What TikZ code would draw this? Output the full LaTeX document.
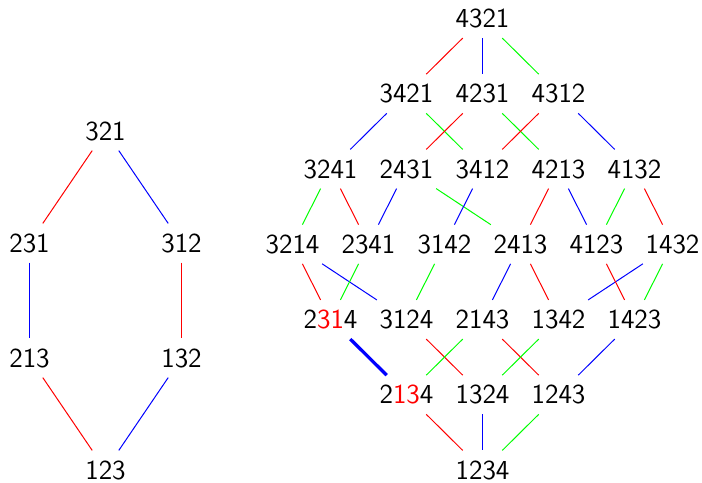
\documentclass[tikz,border=0pt]{standalone}
\usepackage{xcolor}
\begin{document}
\begin{tikzpicture}[x=0.4pt,y=-0.4pt,
  perm/.style={inner sep=3.8pt,font=\fontsize{11}{13}\selectfont\sffamily},
  er/.style={red,line width=0.4pt},
  eb/.style={blue,line width=0.4pt},
  eg/.style={green,line width=0.4pt},
  ebthick/.style={blue,line width=1.3pt}]
\useasboundingbox (0,0) rectangle (702,482);
% left: S3
\node[perm] (a321) at (105.5,131) {321};
\node[perm] (a231) at (29.5,243) {231};
\node[perm] (a312) at (181.5,243) {312};
\node[perm] (a213) at (29.5,358) {213};
\node[perm] (a132) at (181.5,358) {132};
\node[perm] (a123) at (105.5,470) {123};
\draw[er] (a321) -- (a231);
\draw[eb] (a321) -- (a312);
\draw[eb] (a231) -- (a213);
\draw[er] (a312) -- (a132);
\draw[er] (a213) -- (a123);
\draw[eb] (a132) -- (a123);
% right: S4
\node[perm] (n4321) at (482.5,18.5) {4321};
\node[perm] (n3421) at (406.5,93.75) {3421};
\node[perm] (n4231) at (482.5,93.75) {4231};
\node[perm] (n4312) at (558.5,93.75) {4312};
\node[perm] (n3241) at (330.5,169) {3241};
\node[perm] (n2431) at (406.5,169) {2431};
\node[perm] (n3412) at (482.5,169) {3412};
\node[perm] (n4213) at (558.5,169) {4213};
\node[perm] (n4132) at (634.5,169) {4132};
\node[perm] (n3214) at (292.5,244.25) {3214};
\node[perm] (n2341) at (368.5,244.25) {2341};
\node[perm] (n3142) at (444.5,244.25) {3142};
\node[perm] (n2413) at (520.5,244.25) {2413};
\node[perm] (n4123) at (596.5,244.25) {4123};
\node[perm] (n1432) at (672.5,244.25) {1432};
\node[perm] (n2314) at (330.5,319.5) {2\textcolor{red}{31}4};
\node[perm] (n3124) at (406.5,319.5) {3124};
\node[perm] (n2143) at (482.5,319.5) {2143};
\node[perm] (n1342) at (558.5,319.5) {1342};
\node[perm] (n1423) at (634.5,319.5) {1423};
\node[perm] (n2134) at (406.5,394.75) {2\textcolor{red}{13}4};
\node[perm] (n1324) at (482.5,394.75) {1324};
\node[perm] (n1243) at (558.5,394.75) {1243};
\node[perm] (n1234) at (482.5,470) {1234};
% edges
\draw[er] (n4321) -- (n3421);
\draw[eb] (n4321) -- (n4231);
\draw[eg] (n4321) -- (n4312);
\draw[eb] (n3421) -- (n3241);
\draw[eg] (n3421) -- (n3412);
\draw[er] (n4231) -- (n2431);
\draw[eg] (n4231) -- (n4213);
\draw[er] (n4312) -- (n3412);
\draw[eb] (n4312) -- (n4132);
\draw[eg] (n3241) -- (n3214);
\draw[er] (n3241) -- (n2341);
\draw[eb] (n2431) -- (n2341);
\draw[eg] (n2431) -- (n2413);
\draw[eb] (n3412) -- (n3142);
\draw[er] (n4213) -- (n2413);
\draw[eb] (n4213) -- (n4123);
\draw[eg] (n4132) -- (n4123);
\draw[er] (n4132) -- (n1432);
\draw[er] (n3214) -- (n2314);
\draw[eb] (n3214) -- (n3124);
\draw[eg] (n2341) -- (n2314);
\draw[eg] (n3142) -- (n3124);
\draw[eb] (n2413) -- (n2143);
\draw[er] (n2413) -- (n1342);
\draw[eb] (n1432) -- (n1342);
\draw[er] (n4123) -- (n1423);
\draw[eg] (n1432) -- (n1423);
\draw[ebthick] (n2314) -- (n2134);
\draw[er] (n3124) -- (n1324);
\draw[eg] (n2143) -- (n2134);
\draw[er] (n2143) -- (n1243);
\draw[eg] (n1342) -- (n1324);
\draw[eb] (n1423) -- (n1243);
\draw[er] (n2134) -- (n1234);
\draw[eb] (n1324) -- (n1234);
\draw[eg] (n1243) -- (n1234);
\end{tikzpicture}
\end{document}
